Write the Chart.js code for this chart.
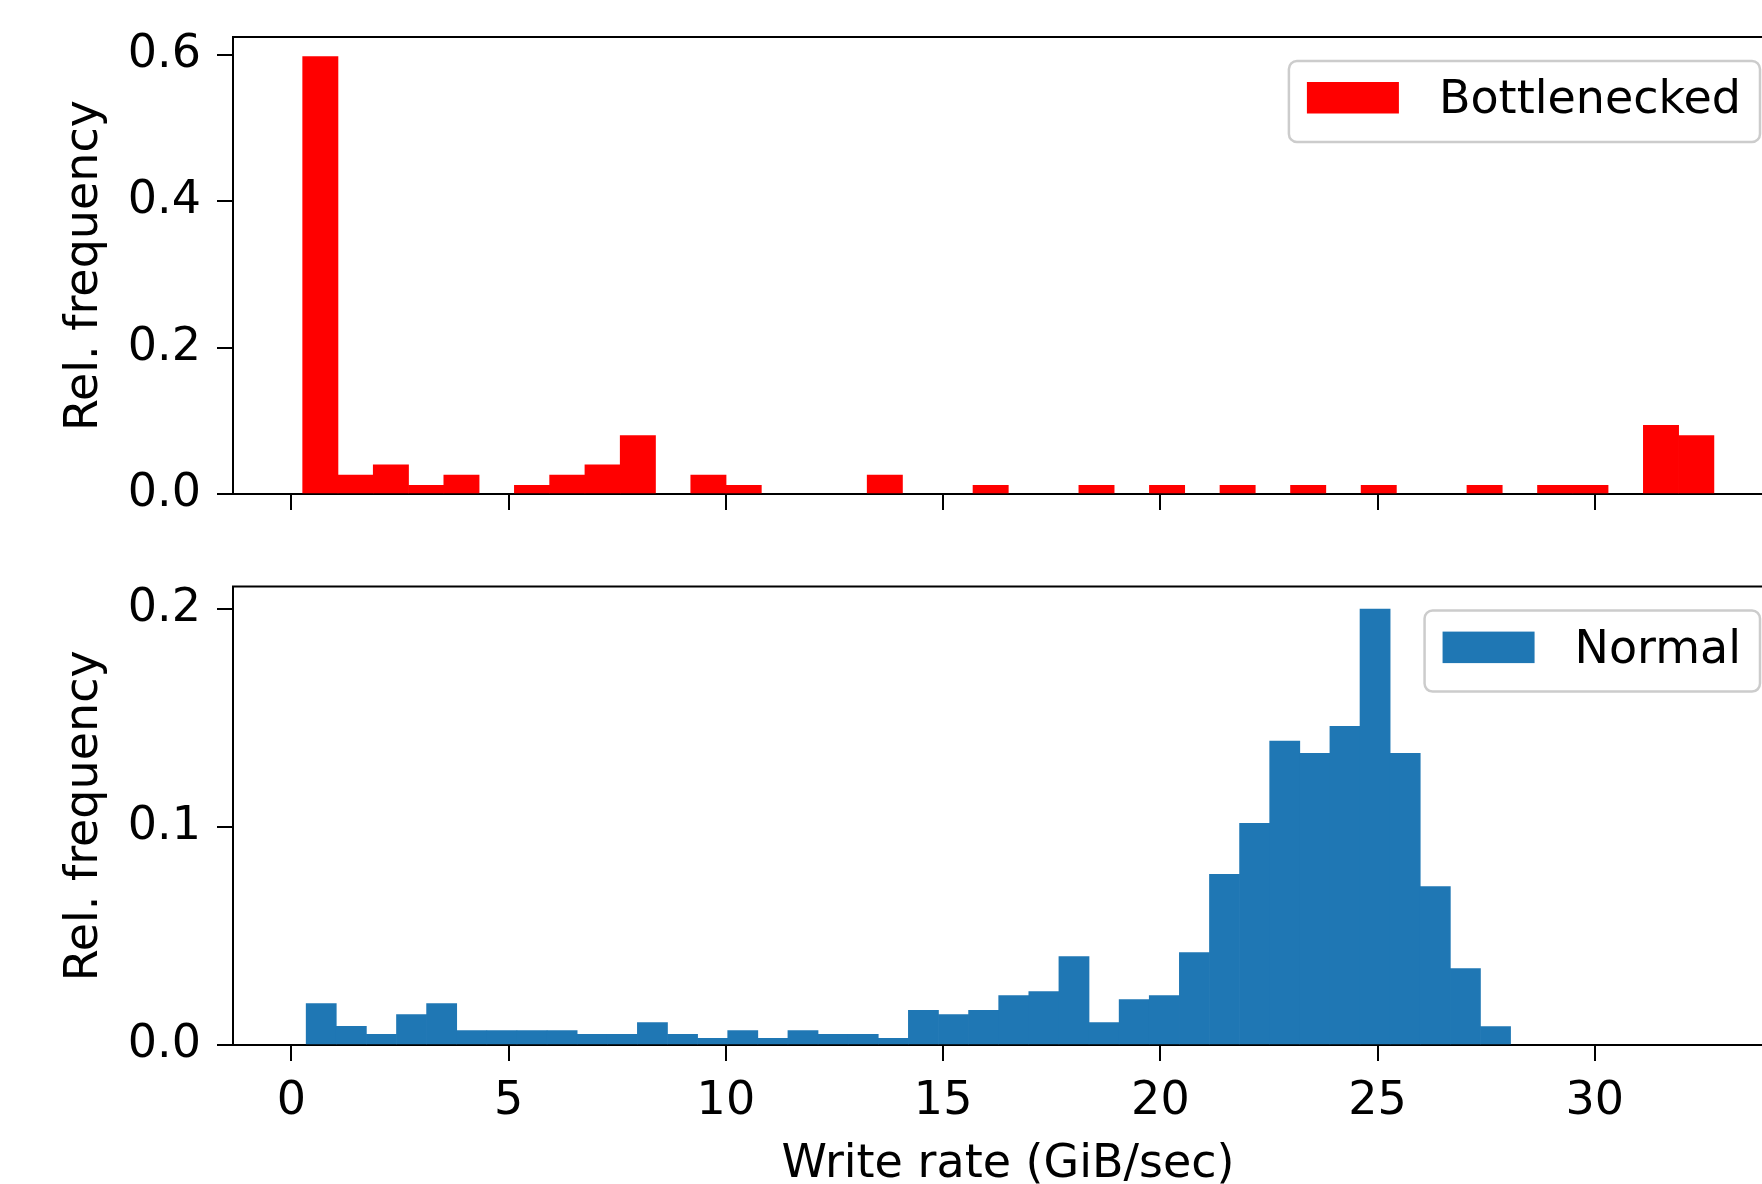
<!DOCTYPE html>
<html>
<head>
<meta charset="utf-8">
<script src="https://cdn.jsdelivr.net/npm/chart.js@4.4.1/dist/chart.umd.min.js"></script>
<style>
    html, body { margin: 0; padding: 0; background: #fff; }
    #wrap { position: relative; width: 1762px; height: 1184px; overflow: hidden; }
    .panel { position: absolute; left: 0; width: 1783px; }
</style>
</head>
<body>
<div id="wrap">
    <div class="panel" style="top:0;height:560px"><canvas id="topChart"></canvas></div>
    <div class="panel" style="top:560px;height:624px"><canvas id="bottomChart"></canvas></div>
</div>
<script>
// histogram bins (GiB/sec)
const bottleneckedBinStart = 0.26;
const bottleneckedBinWidth = 0.812;
const normalBinStart = 0.34;
const normalBinWidth = 0.693;

// relative frequency per bin
const bottleneckedFreq = [
    0.598, 0.026, 0.040, 0.012, 0.026, 0, 0.012, 0.026, 0.040, 0.080,
    0, 0.026, 0.012, 0, 0, 0, 0.026, 0, 0, 0.012,
    0, 0, 0.012, 0, 0.012, 0, 0.012, 0, 0.012, 0,
    0.012, 0, 0, 0.012, 0, 0.012, 0.012, 0, 0.094, 0.080
];
const normalFreq = [
    0.019, 0.0086, 0.0049, 0.0139, 0.019, 0.0066, 0.0066, 0.0066, 0.0066, 0.0049,
    0.0049, 0.0103, 0.0049, 0.0031, 0.0066, 0.0031, 0.0066, 0.0049, 0.0049, 0.0031,
    0.0159, 0.0139, 0.0159, 0.0227, 0.0245, 0.0406, 0.0103, 0.0208, 0.0227, 0.0424,
    0.0783, 0.1017, 0.1394, 0.1338, 0.1462, 0.2000, 0.1338, 0.0727, 0.0351, 0.0084
];

const xTicks = [0, 5, 10, 15, 20, 25, 30];
const topYTicks = [0, 0.2, 0.4, 0.6];
const bottomYTicks = [0, 0.1, 0.2];

const FONT = '"DejaVu Sans", sans-serif';
Chart.defaults.font.family = FONT;
Chart.defaults.font.size = 46;
Chart.defaults.color = '#000';

function toPoints(freq, start, width) {
    return freq.map((f, i) => ({ x: start + (i + 0.5) * width, y: f === 0 ? null : f }));
}

// matplotlib style legend box in the upper right of the plot area
const boxLegend = {
    id: 'boxLegend',
    afterDraw(chart) {
        const ds = chart.data.datasets[0];
        const ctx = chart.ctx;
        const area = chart.chartArea;
        ctx.save();
        ctx.font = '46px ' + FONT;
        const tw = ctx.measureText(ds.label).width;
        const w = 18 + 92 + 40 + tw + 19;
        const h = 81;
        const x = area.right - 23 - w;
        const y = area.top + 24;
        ctx.beginPath();
        ctx.roundRect(x, y, w, h, 8);
        ctx.fillStyle = 'rgba(255,255,255,0.8)';
        ctx.fill();
        ctx.lineWidth = 2.5;
        ctx.strokeStyle = '#cccccc';
        ctx.stroke();
        ctx.fillStyle = ds.backgroundColor;
        ctx.fillRect(x + 18, y + 21, 92, 31.5);
        ctx.fillStyle = '#000';
        ctx.textBaseline = 'middle';
        ctx.fillText(ds.label, x + 150, y + 40);
        ctx.restore();
    }
};

// top and right spines
const frameSpines = {
    id: 'frameSpines',
    afterDraw(chart) {
        const { ctx, chartArea } = chart;
        ctx.save();
        ctx.strokeStyle = '#000';
        ctx.lineWidth = 2;
        ctx.beginPath();
        ctx.moveTo(chartArea.left - 1, chartArea.top);
        ctx.lineTo(chartArea.right, chartArea.top);
        ctx.lineTo(chartArea.right, chartArea.bottom);
        ctx.stroke();
        ctx.restore();
    }
};

function makeChart(canvasId, opts) {
    const ctx = document.getElementById(canvasId).getContext('2d');
    return new Chart(ctx, {
        type: 'bar',
        data: {
            datasets: [{
                label: opts.label,
                data: toPoints(opts.freq, opts.binStart, opts.binWidth),
                backgroundColor: opts.color,
                borderWidth: 0,
                categoryPercentage: 1.0,
                barPercentage: 1.0
            }]
        },
        options: {
            responsive: true,
            maintainAspectRatio: false,
            animation: false,
            layout: { padding: { top: opts.padTop, left: 0, right: 0, bottom: 0 } },
            plugins: {
                legend: { display: false },
                tooltip: { enabled: false }
            },
            scales: {
                x: {
                    type: 'linear',
                    min: -1.344,
                    max: 34.33,
                    offset: false,
                    z: 1,
                    afterBuildTicks: s => { s.ticks = xTicks.map(v => ({ value: v })); },
                    afterFit: s => { s.height = opts.xHeight; s.paddingLeft = 0; s.paddingRight = 0; },
                    border: { display: true, color: '#000', width: 2 },
                    grid: { offset: false, drawOnChartArea: false, drawTicks: true, tickLength: 16, color: '#000', lineWidth: 2 },
                    ticks: {
                        display: opts.showX,
                        padding: 18,
                        maxRotation: 0,
                        autoSkip: false,
                        font: { size: 46, lineHeight: 1.0 },
                        callback: v => String(v)
                    },
                    title: {
                        display: opts.showX,
                        text: 'Write rate (GiB/sec)',
                        font: { size: 46, lineHeight: 0.8 },
                        padding: { top: 0, bottom: 1 }
                    }
                },
                y: {
                    min: 0,
                    max: opts.yMax,
                    z: 1,
                    afterBuildTicks: s => { s.ticks = opts.yTicks.map(v => ({ value: v })); },
                    afterFit: s => { s.width = 233; s.paddingTop = 0; s.paddingBottom = 0; },
                    border: { display: true, color: '#000', width: 2 },
                    grid: { drawOnChartArea: false, drawTicks: true, tickLength: 16, color: '#000', lineWidth: 2 },
                    ticks: {
                        padding: 16,
                        font: { size: 46 },
                        callback: v => Number(v).toFixed(1)
                    },
                    title: {
                        display: true,
                        text: 'Rel. frequency',
                        font: { size: 46, lineHeight: 1.2 },
                        padding: { top: 57, bottom: 0 }
                    }
                }
            }
        },
        plugins: [frameSpines, boxLegend]
    });
}

makeChart('topChart', {
    label: 'Bottlenecked',
    freq: bottleneckedFreq,
    binStart: bottleneckedBinStart,
    binWidth: bottleneckedBinWidth,
    color: '#ff0000',
    yMax: 0.6246,
    yTicks: topYTicks,
    padTop: 37,
    xHeight: 66,
    showX: false
});

makeChart('bottomChart', {
    label: 'Normal',
    freq: normalFreq,
    binStart: normalBinStart,
    binWidth: normalBinWidth,
    color: '#1f77b4',
    yMax: 0.2103,
    yTicks: bottomYTicks,
    padTop: 26.6,
    xHeight: 139,
    showX: true
});
</script>
</body>
</html>
